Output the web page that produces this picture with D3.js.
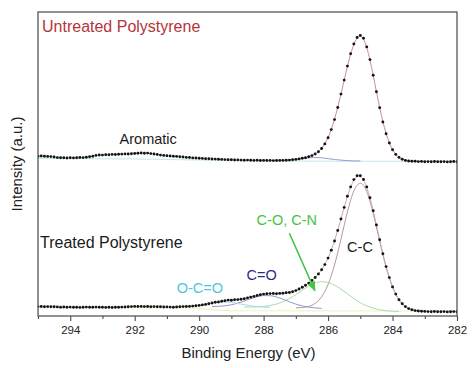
<!DOCTYPE html>
<html lang="en">
<head>
<meta charset="UTF-8">
<title>C 1s spectra - polystyrene</title>
<script src="https://cdnjs.cloudflare.com/ajax/libs/d3/7.8.5/d3.min.js"></script>
<style>
    body { margin: 0; background: #fff; }
    svg { display: block; font-family: "Liberation Sans", Arial, sans-serif; }
    .frame { fill: none; stroke: #4a4a4a; stroke-width: 1.2; }
    .axis path { display: none; }
    .axis line { stroke: #4a4a4a; stroke-width: 1.1; }
    .axis text { font-size: 11.5px; fill: #222; }
    .title { font-size: 15px; fill: #222; }
    .fit { fill: none; stroke-width: 1; }
    .dot { fill: #141414; }
    .label { font-size: 14.5px; }
</style>
</head>
<body>
<svg id="chart" width="472" height="368"></svg>
<script>
    // measured points: 282.0 ... 295.0 eV, one every 0.1 eV
    const energyStart = 282.0, energyStep = 0.1;

    const untreatedCounts = [
        154.2, 154.5, 154.3, 154.1, 154.4, 154.3, 154.2, 154.5, 154.3, 154.4, // 282
        154.3, 154.6, 154.4, 154.7, 154.8, 155.0, 155.6, 156.7, 158.6, 161.6, // 283
        166.3, 173.0, 182.2, 194.0, 208.2, 224.3, 240.8, 256.4, 269.1, 277.7, // 284
        280.6, 278.5, 272.0, 262.3, 249.9, 235.9, 221.9, 208.5, 196.4, 186.4, // 285
        178.2, 172.1, 167.5, 164.2, 162.0, 160.4, 159.2, 158.3, 157.7, 157.1, // 286
        156.6, 156.2, 155.9, 155.8, 155.6, 155.6, 155.5, 155.4, 155.6, 155.5, // 287
        155.6, 155.5, 155.7, 155.6, 155.7, 155.9, 155.8, 155.9, 156.1, 156.0, // 288
        156.2, 156.3, 156.4, 156.6, 156.7, 156.9, 157.0, 157.2, 157.3, 157.6, // 289
        157.7, 158.0, 158.1, 158.5, 158.6, 159.0, 159.2, 159.6, 159.7, 160.0, // 290
        160.2, 160.6, 160.9, 161.5, 162.0, 162.4, 162.9, 162.7, 163.0, 162.8, // 291
        162.5, 162.3, 162.0, 162.1, 161.9, 161.8, 161.5, 161.6, 161.2, 161.3, // 292
        160.9, 161.0, 160.6, 159.8, 159.3, 158.7, 158.4, 158.5, 158.3, 158.1, // 293
        158.2, 158.0, 158.3, 158.2, 158.4, 159.0, 159.4, 159.6, 159.7, 160.0, // 294
        159.8                                                                 // 295
    ];

    const treatedCounts = [
        4.2, 4.4, 4.3, 4.1, 4.4, 4.3, 4.2, 4.5, 4.3, 4.4,                     // 282
        4.6, 4.7, 5.0, 5.4, 6.2, 7.4, 9.4, 12.3, 16.3, 21.9,                  // 283
        29.1, 38.4, 49.4, 62.2, 76.3, 91.0, 105.3, 118.3, 129.1, 136.5,       // 284
        140.3, 140.2, 136.4, 129.1, 119.7, 108.6, 97.0, 85.5, 75.0, 65.7,     // 285
        57.9, 51.4, 46.3, 42.0, 38.5, 35.6, 32.9, 30.7, 28.7, 27.0,           // 286
        25.4, 24.3, 23.5, 23.2, 22.8, 22.6, 22.3, 22.5, 22.4, 22.2,           // 287
        21.9, 21.2, 20.5, 19.6, 18.9, 18.1, 17.2, 16.8, 16.4, 16.2,           // 288
        15.8, 15.9, 15.2, 14.8, 14.0, 13.7, 13.0, 12.3, 11.6, 11.1,           // 289
        10.6, 10.2, 9.9, 9.6, 9.5, 9.4, 9.3, 9.0, 8.8, 8.9,                   // 290
        9.1, 9.0, 9.3, 9.2, 9.4, 9.3, 9.5, 9.4, 9.6, 9.5,                     // 291
        9.6, 9.4, 9.3, 9.0, 8.9, 8.7, 8.8, 8.5, 8.7, 8.6,                     // 292
        8.8, 8.7, 8.9, 8.8, 8.7, 8.9, 8.8, 8.6, 8.8, 8.7,                     // 293
        8.9, 8.8, 9.0, 8.8, 9.1, 9.3, 9.2, 9.4, 9.3, 9.5,                     // 294
        9.4                                                                   // 295
    ];

    // fitted components (background included), one value every 0.2 eV from their start energy
    const componentStep = 0.2;
    const componentNames = ["C-C", "C-O, C-N", "C=O", "O-C=O", "untreated shoulder"];
    const componentStarts = [283.0, 283.8, 286.2, 287.8, 285.0];
    const componentColors = ["#bb959f", "#a9dca9", "#9a94c8", "#9fdde6", "#8f9fcf"];
    const ccFit = [4.4, 4.9, 6.1, 9.4, 16.2, 28.8, 48.7, 74.9, 102.6, 124.4, 132.8,
        125.1, 104.0, 76.8, 51.0, 31.5, 19.2, 12.6, 9.6, 8.5, 8.1];
    const coFit = [4.5, 4.8, 5.3, 6.2, 7.8, 10.2, 13.3, 17.5, 22.2, 26.9, 30.9, 33.6, 34.3,
        33.0, 30.0, 25.9, 21.4, 17.4, 14.3, 12.0, 10.5, 9.6, 9.2, 9.0, 9.0];
    const carbonylFit = [7.6, 8.1, 8.9, 10.1, 11.9, 14.2, 16.8, 19.0, 20.3, 20.4, 19.3,
        17.3, 15.0, 12.8, 11.2, 10.2, 9.7, 9.4];
    const carboxylFit = [8.6, 8.9, 9.4, 10.2, 11.3, 12.5, 13.6, 14.1, 13.8, 12.8, 11.6,
        10.6, 9.9, 9.5, 9.3];
    const shoulderFit = [155.0, 155.1, 155.4, 155.9, 156.5, 157.4, 158.2, 158.5, 158.2,
        157.5, 156.7, 156.1, 155.8, 155.6, 155.5];

    // backgrounds
    const untreatedBaseEnergy = [282, 286, 288, 290, 292, 295];
    const untreatedBaseCounts = [154.6, 154.8, 155.1, 156.0, 157.0, 157.6];
    const treatedBaseEnergy = [282, 289, 290.5, 295];
    const treatedBaseCounts = [5.0, 5.2, 8.3, 8.4];

    const xTicks = [294, 292, 290, 288, 286, 284, 282];
    const xMinorTicks = [295, 293, 291, 289, 287, 285, 283];

    // layout
    const margin = {left: 38, right: 457, top: 12, bottom: 316};
    const svg = d3.select("#chart");

    const x = d3.scaleLinear().domain([295, 282]).range([margin.left, margin.right]);
    const y = d3.scaleLinear().domain([0, 304]).range([margin.bottom, margin.top]);

    const toPoints = (start, step, values) => values.map((v, i) => ({e: start + i * step, c: v}));
    const untreated = toPoints(energyStart, energyStep, untreatedCounts);
    const treated = toPoints(energyStart, energyStep, treatedCounts);

    svg.append("clipPath").attr("id", "plot-clip")
        .append("rect").attr("x", margin.left).attr("y", margin.top)
        .attr("width", margin.right - margin.left).attr("height", margin.bottom - margin.top);

    const plot = svg.append("g").attr("clip-path", "url(#plot-clip)");

    const line = d3.line().x(d => x(d.e)).y(d => y(d.c)).curve(d3.curveMonotoneX);
    const smooth = d3.line().x(d => x(d.e)).y(d => y(d.c)).curve(d3.curveBasis);

    // baselines
    plot.append("path")
        .datum(untreatedBaseEnergy.map((e, i) => ({e: e, c: untreatedBaseCounts[i]})))
        .attr("class", "fit").attr("stroke", "#bfe9ee").attr("d", line);
    plot.append("path")
        .datum(treatedBaseEnergy.map((e, i) => ({e: e, c: treatedBaseCounts[i]})))
        .attr("class", "fit").attr("stroke", "#eef2b8").attr("d", line);

    // components
    [ccFit, coFit, carbonylFit, carboxylFit, shoulderFit].forEach((vals, k) => {
        plot.append("path")
            .datum(toPoints(componentStarts[k], componentStep, vals))
            .attr("class", "fit")
            .attr("stroke", componentColors[k])
            .attr("stroke-width", 1.2)
            .attr("d", line)
            .append("title").text(componentNames[k]);
    });

    // overall fit envelopes
    plot.append("path")
        .datum(untreated.filter(d => d.e > 282.9 && d.e < 288))
        .attr("class", "fit").attr("stroke", "#cf86a6").attr("stroke-width", 1.1).attr("d", smooth);
    plot.append("path")
        .datum(treated.filter(d => d.e > 282.9 && d.e < 290.5))
        .attr("class", "fit").attr("stroke", "#c7a7ae").attr("stroke-width", 1.1).attr("d", smooth);

    // data points
    plot.selectAll("circle.untreated").data(untreated).join("circle")
        .attr("class", "dot untreated")
        .attr("cx", d => x(d.e)).attr("cy", d => y(d.c)).attr("r", 1.45);
    plot.selectAll("circle.treated").data(treated).join("circle")
        .attr("class", "dot treated")
        .attr("cx", d => x(d.e)).attr("cy", d => y(d.c)).attr("r", 1.45);

    // frame + axis
    svg.append("rect").attr("class", "frame")
        .attr("x", margin.left).attr("y", margin.top)
        .attr("width", margin.right - margin.left).attr("height", margin.bottom - margin.top);

    svg.append("g").attr("class", "axis")
        .attr("transform", `translate(0,${margin.bottom})`)
        .call(d3.axisBottom(x).tickValues(xTicks).tickFormat(d3.format("d")).tickSize(5).tickPadding(5));
    svg.append("g").attr("class", "axis")
        .attr("transform", `translate(0,${margin.bottom})`)
        .call(d3.axisBottom(x).tickValues(xMinorTicks).tickFormat("").tickSize(3));

    svg.append("text").attr("class", "title")
        .attr("x", (margin.left + margin.right) / 2 + 1).attr("y", 358)
        .attr("text-anchor", "middle").text("Binding Energy (eV)");
    svg.append("text").attr("class", "title")
        .attr("transform", "translate(22,164) rotate(-90)")
        .attr("text-anchor", "middle").text("Intensity (a.u.)");

    // annotations
    svg.append("text").attr("x", margin.left + 4).attr("y", 32)
        .attr("font-size", 16).attr("fill", "#b3353b").text("Untreated Polystyrene");
    svg.append("text").attr("x", margin.left + 2).attr("y", 248)
        .attr("font-size", 16).attr("fill", "#1a1a1a").text("Treated Polystyrene");

    const notes = [
        {text: "Aromatic", e: 291.58, c: 172.5, color: "#1a1a1a", size: 13},
        {text: "O-C=O", e: 289.98, c: 22.7, color: "#4cc6dc", size: 14.5},
        {text: "C=O", e: 288.06, c: 36, color: "#2b2a88", size: 14.5},
        {text: "C-O, C-N", e: 287.28, c: 91, color: "#43c443", size: 14.5},
        {text: "C-C", e: 285.01, c: 64.3, color: "#1a1a1a", size: 14.5}
    ];
    svg.selectAll("text.label").data(notes).join("text")
        .attr("class", "label")
        .attr("x", d => x(d.e)).attr("y", d => y(d.c))
        .attr("text-anchor", "middle")
        .attr("font-size", d => d.size)
        .attr("fill", d => d.color)
        .text(d => d.text);

    // arrow pointing at the C-O component
    svg.append("defs").append("marker")
        .attr("id", "arrow").attr("markerUnits", "userSpaceOnUse")
        .attr("markerWidth", 10).attr("markerHeight", 8)
        .attr("refX", 9).attr("refY", 4).attr("orient", "auto")
        .append("path").attr("d", "M0,0L10,4L0,8Z").attr("fill", "#43c443");
    svg.append("line")
        .attr("x1", x(287.2)).attr("y1", y(82.7))
        .attr("x2", x(286.41)).attr("y2", y(25.3))
        .attr("stroke", "#43c443").attr("stroke-width", 1.6)
        .attr("marker-end", "url(#arrow)");
</script>
</body>
</html>
